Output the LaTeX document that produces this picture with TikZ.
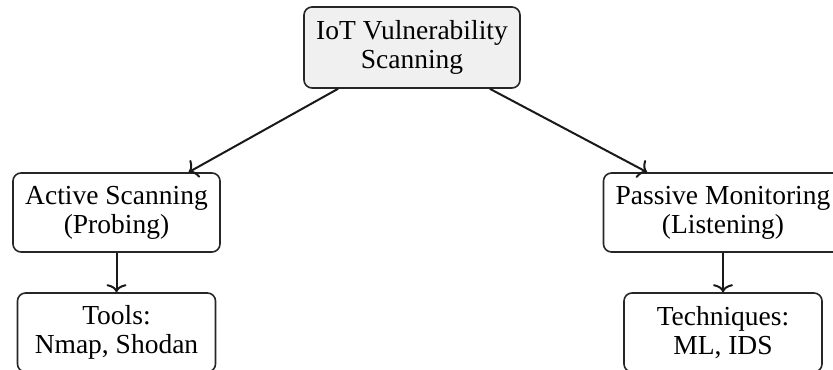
\documentclass[tikz,border=0pt]{standalone}
\usepackage{fontspec}
\setmainfont{Liberation Serif}
\usetikzlibrary{arrows.meta}
\begin{document}
\begin{tikzpicture}[x=0.5pt,y=-0.5pt,
  box/.style={draw=black!85, line width=0.8pt, rounded corners=4pt, align=center, inner sep=0pt,
    font=\fontsize{13.75}{14.4}\selectfont},
  rootbox/.style={box, fill=black!6},
  link/.style={-{To[length=4pt,width=10pt]}, line width=1pt, black!90}]
\clip (0,0) rectangle (833,369);
\useasboundingbox (0,0) rectangle (833,369);
\node[rootbox, minimum width=108pt, minimum height=40.5pt] (root) at (412,47.5) {IoT Vulnerability\\Scanning};
\node[box, minimum width=103.5pt, minimum height=39.5pt] (active) at (116.5,212.5) {Active Scanning\\(Probing)};
\node[box, minimum width=119.5pt, minimum height=39.5pt] (passive) at (723,212.5) {Passive Monitoring\\(Listening)};
\node[box, minimum width=99pt, minimum height=39.5pt] (tools) at (116.5,332.5) {Tools:\\Nmap, Shodan};
\node[box, minimum width=99pt, minimum height=39.5pt] (tech) at (723,332.5) {Techniques:\\ML, IDS};
\draw[link] (root) -- (active);
\draw[link] (root) -- (passive);
\draw[link] (active.south) -- (tools.north);
\draw[link] (passive.south) -- (tech.north);
\end{tikzpicture}
\end{document}
